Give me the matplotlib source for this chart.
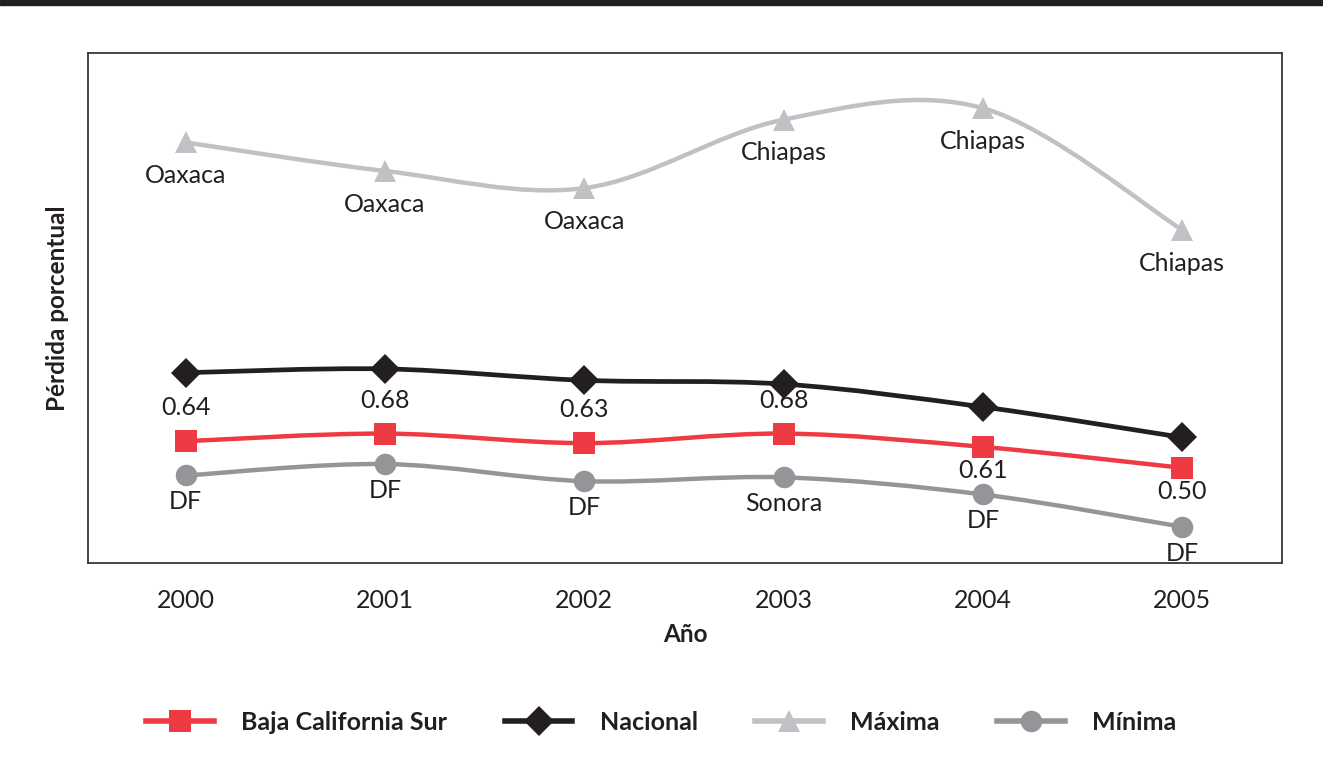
import numpy as np
import matplotlib.pyplot as plt
from matplotlib.path import Path
from matplotlib.patches import PathPatch
from matplotlib.lines import Line2D

plt.rcParams['font.family'] = ['Lato', 'DejaVu Sans']

# Data
years = ['2000', '2001', '2002', '2003', '2004', '2005']
bcs = [0.64, 0.68, 0.63, 0.68, 0.61, 0.50]
nacional = [1.00, 1.02, 0.96, 0.94, 0.82, 0.66]
maxima = [2.21, 2.06, 1.97, 2.33, 2.39, 1.75]
minima = [0.46, 0.52, 0.43, 0.45, 0.36, 0.19]
max_states = ['Oaxaca', 'Oaxaca', 'Oaxaca', 'Chiapas', 'Chiapas', 'Chiapas']
min_states = ['DF', 'DF', 'DF', 'Sonora', 'DF', 'DF']
bcs_labels = ['0.64', '0.68', '0.63', '0.68', '0.61', '0.50']
bcs_label_above = [True, True, True, True, False, False]

c_red = '#ee3a43'
c_black = '#231f20'
c_max = '#c0c1c5'
c_min = '#939598'


def smooth_path(xs, ys):
    # Excel-like smoothed line drawn as cubic Bezier segments through the points
    pts = np.column_stack([xs, ys]).astype(float)
    verts = [pts[0]]
    codes = [Path.MOVETO]
    n = len(pts)
    for i in range(n - 1):
        p0 = pts[i - 1] if i > 0 else pts[i]
        p1 = pts[i]
        p2 = pts[i + 1]
        p3 = pts[i + 2] if i + 2 < n else pts[i + 1]
        c1 = p1 + (p2 - p0) / 6.0
        c2 = p2 - (p3 - p1) / 6.0
        verts += [c1, c2, p2]
        codes += [Path.CURVE4] * 3
    return Path(verts, codes)


fig = plt.figure(figsize=(13.23, 7.67), dpi=100)
ax = fig.add_axes([88 / 1323, 1 - 563 / 767, (1282 - 88) / 1323, (563 - 53) / 767])

# top dark bar
fig.patches.append(plt.Rectangle((0, 1 - 5 / 767), 1, 5 / 767, transform=fig.transFigure,
                                 color=c_black, zorder=0))

x = np.arange(len(years))
series = [
    (maxima, c_max, '^', 16, 3.2, 'Máxima'),
    (minima, c_min, 'o', 15.5, 3.2, 'Mínima'),
    (bcs, c_red, 's', 16, 3.2, 'Baja California Sur'),
    (nacional, c_black, 'D', 15, 3.4, 'Nacional'),
]
for vals, col, mk, ms, lw, name in series:
    ax.add_patch(PathPatch(smooth_path(x, vals), facecolor='none', edgecolor=col,
                           lw=lw, capstyle='round', zorder=2))
    ax.plot(x, vals, linestyle='none', marker=mk, markersize=ms, color=col,
            markeredgewidth=0, zorder=3)

fs = 18
for i in range(len(years)):
    ax.annotate(max_states[i], (x[i], maxima[i]), xytext=(0, -24), textcoords='offset points',
                ha='center', va='center', fontsize=fs, color='#231f20')
    ax.annotate(min_states[i], (x[i], minima[i]), xytext=(0, -19), textcoords='offset points',
                ha='center', va='center', fontsize=fs, color='#231f20')
    dy = 24 if bcs_label_above[i] else -17
    ax.annotate(bcs_labels[i], (x[i], bcs[i]), xytext=(0, dy), textcoords='offset points',
                ha='center', va='center', fontsize=fs, color='#231f20')

ax.set_xlim(-0.49, 5.5)
ax.set_ylim(0, 2.68)
ax.set_xticks(x)
ax.set_xticklabels(years, fontsize=fs, color='#231f20')
ax.tick_params(axis='x', length=0, pad=19)
ax.set_yticks([])
for s in ax.spines.values():
    s.set_color('#3d3536')
    s.set_linewidth(1.3)

ax.set_xlabel('Año', fontsize=17.5, fontweight='bold', color='#231f20', labelpad=8)
ax.set_ylabel('Pérdida porcentual', fontsize=17.5, fontweight='bold', color='#231f20', labelpad=14)

handles = [
    Line2D([], [], color=c_red, lw=4, marker='s', markersize=16, markeredgewidth=0),
    Line2D([], [], color=c_black, lw=4, marker='D', markersize=15, markeredgewidth=0),
    Line2D([], [], color=c_max, lw=4, marker='^', markersize=16, markeredgewidth=0),
    Line2D([], [], color=c_min, lw=4, marker='o', markersize=15.5, markeredgewidth=0),
]
labels = ['Baja California Sur', 'Nacional', 'Máxima', 'Mínima']
fig.legend(handles, labels, loc='center', bbox_to_anchor=(0.5, 1 - 722 / 767), ncol=4,
           frameon=False, prop={'size': 18, 'weight': 'bold'}, handlelength=2.7,
           handletextpad=1.1, columnspacing=2.3, labelcolor='#231f20')

fig.savefig('out.png', dpi=100)
